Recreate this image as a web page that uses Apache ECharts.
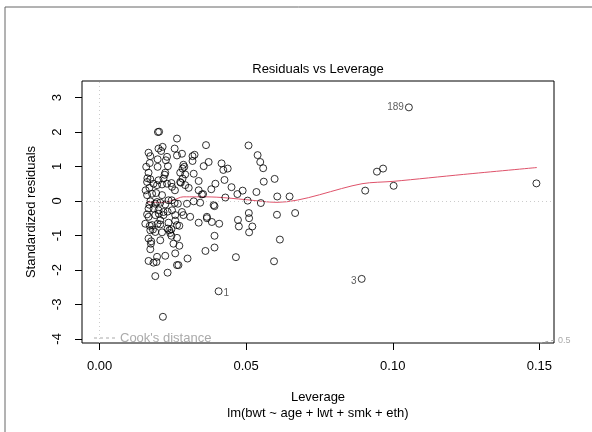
<!DOCTYPE html>
<html>
<head>
    <meta charset="utf-8">
    <title>Residuals vs Leverage</title>
    <script src="https://cdn.jsdelivr.net/npm/echarts@6/dist/echarts.min.js"></script>
    <style>
        html, body { margin: 0; padding: 0; background: #fff; }
        #main { width: 592px; height: 432px; }
    </style>
</head>
<body>
<div id="main"></div>
<script>
    // leverage (hat values) and standardized residuals
    var leverage = [
        0.0199, 0.0203, 0.0264, 0.0167, 0.0173, 0.0201, 0.0215, 0.0210, 0.0256, 0.0264,
        0.0230, 0.0198, 0.0159, 0.0198, 0.0233, 0.0167, 0.0224, 0.0173, 0.0201, 0.0218,
        0.0162, 0.0184, 0.0196, 0.0213, 0.0230, 0.0170, 0.0247, 0.0162, 0.0179, 0.0213,
        0.0235, 0.0173, 0.0190, 0.0207, 0.0224, 0.0167, 0.0184, 0.0201, 0.0247, 0.0162,
        0.0190, 0.0218, 0.0258,
        0.0281, 0.0317, 0.0324, 0.0372, 0.0355, 0.0286, 0.0283, 0.0275, 0.0292, 0.0321,
        0.0283, 0.0275, 0.0338, 0.0292, 0.0395, 0.0304, 0.0338, 0.0381, 0.0349, 0.0267,
        0.0298, 0.0321, 0.0343, 0.0389, 0.0281, 0.0286, 0.0309, 0.0366, 0.0363, 0.0317,
        0.0353, 0.0392,
        0.0167, 0.0156, 0.0179, 0.0207, 0.0235, 0.0245, 0.0264, 0.0173, 0.0190, 0.0167,
        0.0176, 0.0207, 0.0173, 0.0252, 0.0258, 0.0167, 0.0184, 0.0196, 0.0224, 0.0264,
        0.0190, 0.0232, 0.0216,
        0.0338, 0.0366, 0.0383, 0.0272, 0.0264, 0.0272, 0.0392, 0.0392, 0.0361, 0.0300,
        0.0269, 0.0408,
        0.0193, 0.0196, 0.0218, 0.0207, 0.0213, 0.0198, 0.0202, 0.0194, 0.0175, 0.0182,
        0.0171, 0.0170, 0.0157, 0.0163, 0.0171, 0.0232, 0.0238, 0.0232, 0.0241, 0.0245,
        0.0246, 0.0245, 0.0226, 0.0222, 0.0257, 0.0256, 0.0258, 0.0277, 0.0289,
        0.0422, 0.0437, 0.0416, 0.0426, 0.0429, 0.0450, 0.0470, 0.0488, 0.0505, 0.0508,
        0.0539, 0.0548, 0.0558, 0.0535, 0.0550, 0.0560, 0.0597, 0.0606, 0.0648, 0.0605,
        0.0667, 0.0615, 0.0595, 0.0509, 0.0510, 0.0521, 0.0510, 0.0472, 0.0475, 0.0465,
        0.0906, 0.0946, 0.0967, 0.1003, 0.1490
    ];
    var stdResid = [
        2.00, 2.01, 1.81, 1.40, 1.30, 1.52, 1.57, 1.45, 1.52, 1.32,
        1.28, 1.21, 0.99, 0.99, 1.01, 0.82, 0.82, 0.63, 0.60, 0.65,
        0.55, 0.50, 0.46, 0.48, 0.50, 0.38, 0.41, 0.17, 0.21, 0.17,
        0.02, -0.01, -0.08, -0.05, -0.10, -0.22, -0.22, -0.27, -0.27, -0.39,
        -0.41, -0.41, -0.41,
        1.37, 1.30, 1.34, 1.13, 1.01, 1.05, 0.94, 0.82, 0.77, 0.79,
        0.65, 0.55, 0.58, 0.46, 0.50, 0.38, 0.31, 0.34, 0.19, -0.08,
        -0.08, -0.01, -0.05, -0.12, -0.32, -0.41, -0.46, -0.46, 1.62, 1.16,
        0.20, -0.15,
        -0.46, -0.66, -0.70, -0.56, -0.63, -0.82, -0.70, -0.85, -0.90, -1.09,
        -1.17, -1.14, -1.40, -1.24, -1.52, -1.74, -1.79, -1.62, -1.59, -1.86,
        -2.18, -2.08, -3.36,
        -0.63, -0.50, -0.61, -0.72, -1.07, -1.30, -1.01, -1.35, -1.45, -1.67,
        -1.86, -0.66,
        0.23, -0.03, -0.32, -0.68, -0.91, -0.66, -0.37, -1.77, -1.24, -0.83,
        -0.72, -0.11, 0.31, 0.66, 1.10, -0.31, -0.85, -0.80, -0.93, -1.01,
        0.02, 0.52, 1.18, 0.76, 0.31, -0.06, -0.57, 0.53, 0.99,
        0.90, 0.94, 1.09, 0.61, 0.10, 0.40, 0.20, 0.30, 0.01, 1.61,
        1.33, 1.13, 0.95, 0.26, -0.06, 0.56, 0.64, 0.13, 0.13, -0.40,
        -0.35, -1.12, -1.75, -0.35, -0.50, -0.74, -0.91, -0.55, -0.74, -1.63,
        0.30, 0.85, 0.94, 0.44, 0.51
    ];

    // the three flagged observations
    var flagIds = ['1', '3', '189'];
    var flagLev = [0.0406, 0.0894, 0.1055];
    var flagRes = [-2.62, -2.26, 2.715];
    var flagSide = ['right', 'left', 'left'];

    // red smoother
    var smoothLev = [0.0159, 0.0215, 0.0250, 0.0285, 0.0330, 0.0400, 0.0497, 0.0605, 0.0895, 0.1003, 0.1241, 0.1492];
    var smoothRes = [-0.03, -0.04, 0.02, 0.12, 0.12, 0.11, 0.04, -0.04, 0.50, 0.57, 0.77, 0.97];

    // visible bit of the Cook's distance 0.5 contour
    var cookLev = [0.1500, 0.1550];
    var cookRes = [-4.12, -4.04];

    var xTicks = [0, 0.05, 0.10, 0.15];
    var yTicks = [-4, -3, -2, -1, 0, 1, 2, 3];

    var pts = leverage.map(function (v, i) { return [v, stdResid[i]]; });
    var flagPts = flagLev.map(function (v, i) {
        return {
            value: [v, flagRes[i]],
            label: { show: true, formatter: flagIds[i], position: flagSide[i], distance: 1,
                     offset: [0, flagIds[i] === '189' ? 0 : 2] }
        };
    });
    var smoothPts = smoothLev.map(function (v, i) { return [v, smoothRes[i]]; });
    var cookPts = cookLev.map(function (v, i) { return [v, cookRes[i]]; });

    var font = 'Liberation Sans, Arial, sans-serif';
    var myChart = echarts.init(document.getElementById('main'));

    var option = {
        backgroundColor: '#fff',
        animation: false,
        grid: { left: 82, right: 38, top: 81, bottom: 89, show: true, borderColor: '#000', borderWidth: 1 },
        xAxis: {
            type: 'value', min: -0.006, max: 0.155,
            axisLine: { show: false, onZero: false },
            axisTick: { show: true, length: 7, customValues: xTicks, lineStyle: { color: '#000' } },
            axisLabel: { customValues: xTicks, margin: 17, color: '#000', fontSize: 13, fontFamily: font,
                formatter: function (v) { return v.toFixed(2); } },
            splitLine: { show: false }
        },
        yAxis: {
            type: 'value', min: -4.12, max: 3.48,
            name: 'Standardized residuals', nameLocation: 'middle', nameRotate: 90, nameGap: 44,
            nameTextStyle: { color: '#000', fontSize: 13, fontFamily: font },
            axisLine: { show: false, onZero: false },
            axisTick: { show: true, length: 7, customValues: yTicks, lineStyle: { color: '#000' } },
            axisLabel: { customValues: yTicks, rotate: 90, margin: 18, color: '#000', fontSize: 13, fontFamily: font },
            splitLine: { show: false }
        },
        series: [{
            type: 'scatter',
            data: pts,
            symbol: 'circle',
            symbolSize: 7,
            itemStyle: { color: 'rgba(0,0,0,0)', borderColor: '#000', borderWidth: 1 },
            markLine: {
                silent: true, symbol: 'none', label: { show: false },
                lineStyle: { color: '#ccc', type: [1, 3], width: 1 },
                data: [{ yAxis: 0 }, { xAxis: 0 }]
            },
            z: 3
        }, {
            type: 'scatter',
            data: flagPts,
            symbol: 'circle',
            symbolSize: 7,
            itemStyle: { color: 'rgba(0,0,0,0)', borderColor: '#000', borderWidth: 1 },
            label: { color: '#333', fontSize: 10, fontFamily: font },
            z: 3
        }, {
            type: 'line',
            data: smoothPts,
            showSymbol: false,
            smooth: 0.3,
            lineStyle: { color: '#DF536B', width: 1 },
            z: 2
        }, {
            type: 'line',
            data: cookPts,
            showSymbol: false,
            clip: false,
            lineStyle: { color: '#aaa', width: 1, type: [3, 3] },
            z: 2
        }],
        graphic: [{
            type: 'polyline',
            shape: { points: [[5, 432], [5, 7], [592, 7]] },
            style: { stroke: '#666', lineWidth: 1, fill: null }
        }, {
            type: 'text',
            style: { text: 'Residuals vs Leverage', x: 318, y: 69, textAlign: 'center', textVerticalAlign: 'middle',
                     font: '13px ' + font, fill: '#000' }
        }, {
            type: 'text',
            style: { text: 'Leverage', x: 318, y: 397, textAlign: 'center', textVerticalAlign: 'middle',
                     font: '13px ' + font, fill: '#000' }
        }, {
            type: 'text',
            style: { text: 'lm(bwt ~ age + lwt + smk + eth)', x: 318, y: 413, textAlign: 'center', textVerticalAlign: 'middle',
                     font: '13px ' + font, fill: '#000' }
        }, {
            type: 'line',
            shape: { x1: 94, y1: 338, x2: 117, y2: 338 },
            style: { stroke: '#aaa', lineWidth: 1, lineDash: [3, 3] }
        }, {
            type: 'text',
            style: { text: "Cook's distance", x: 120, y: 338, textAlign: 'left', textVerticalAlign: 'middle',
                     font: '13px ' + font, fill: '#aaa' }
        }, {
            type: 'text',
            style: { text: '0.5', x: 558, y: 341, textAlign: 'left', textVerticalAlign: 'middle',
                     font: '9px ' + font, fill: '#aaa' }
        }]
    };
    myChart.setOption(option);
</script>
</body>
</html>
